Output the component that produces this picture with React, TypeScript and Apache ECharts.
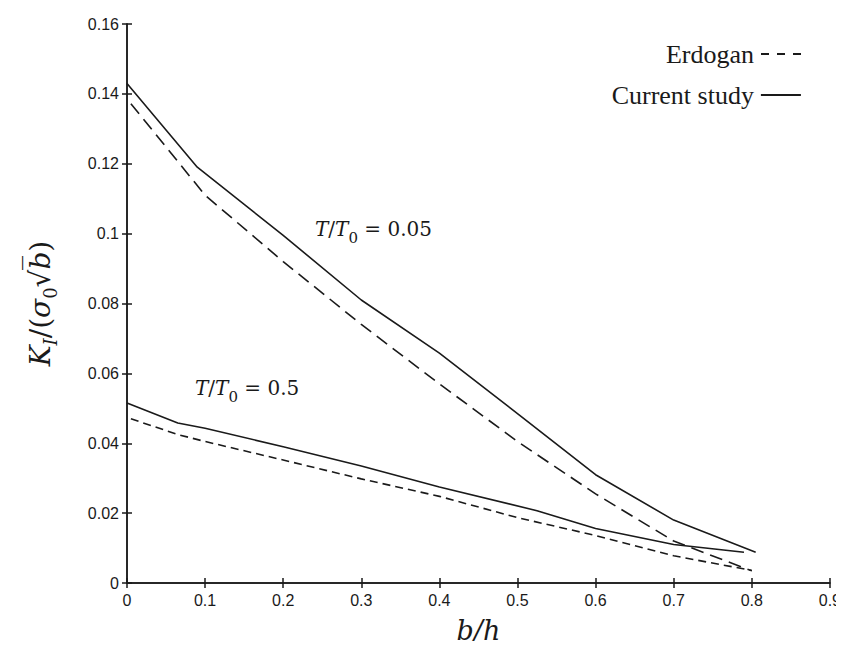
import React, { useEffect, useRef } from "react";
import * as echarts from "echarts";

// b/h values and K_I/(sigma0 sqrt b) values
const upperSolidX = [0, 0.09, 0.2, 0.3, 0.4, 0.5, 0.6, 0.7, 0.805];
const upperSolidY = [0.143, 0.119, 0.0995, 0.081, 0.0658, 0.0485, 0.031, 0.018, 0.0088];

const upperDashX = [0.005, 0.1, 0.2, 0.3, 0.4, 0.5, 0.6, 0.7, 0.8];
const upperDashY = [0.1372, 0.111, 0.092, 0.074, 0.057, 0.0405, 0.0255, 0.012, 0.0035];

const lowerSolidX = [0, 0.065, 0.1, 0.2, 0.3, 0.4, 0.525, 0.6, 0.7, 0.79];
const lowerSolidY = [0.0515, 0.0458, 0.0443, 0.039, 0.0335, 0.0275, 0.0207, 0.0156, 0.011, 0.0088];

const lowerDashX = [0.005, 0.065, 0.1, 0.2, 0.3, 0.4, 0.5, 0.6, 0.7, 0.8];
const lowerDashY = [0.047, 0.0425, 0.0405, 0.0352, 0.0298, 0.0248, 0.0187, 0.0136, 0.0078, 0.0036];

const seriesNames = ["Erdogan", "Current study"];
const curveValues = ["0.05", "0.5"];

const zip = (xs: number[], ys: number[]) => xs.map((x, i) => [x, ys[i]]);

const INK = "#1a1a1a";
const SERIF = "'Liberation Serif', 'DejaVu Serif', serif";
const MATH = "'DejaVu Serif', 'Liberation Serif', serif";
const SANS = "'Liberation Sans', Arial, sans-serif";

export default function App() {
  const ref = useRef<HTMLDivElement>(null);

  useEffect(() => {
    if (!ref.current) return;
    const chart = echarts.init(ref.current, null, { renderer: "svg" });

    const axisCommon = {
      type: "value" as const,
      axisLine: { show: true, lineStyle: { color: INK, width: 1.5 } },
      axisTick: { show: true, inside: true, length: 5, lineStyle: { color: INK, width: 1.5 } },
      splitLine: { show: false },
    };

    const lineSeries = (name: string, data: number[][], type: any) => ({
      type: "line",
      name,
      data,
      symbol: "none",
      showSymbol: false,
      smooth: false,
      lineStyle: { color: INK, width: 1.6, type },
      itemStyle: { color: INK },
      z: 3,
    });

    const legendCommon = {
      orient: "horizontal" as const,
      align: "right" as const,
      right: 42,
      padding: 0,
      itemWidth: 40,
      itemHeight: 14,
      itemGap: 10,
      selectedMode: false,
      itemStyle: { color: "transparent", borderWidth: 0, opacity: 0 },
      textStyle: { fontFamily: SERIF, fontSize: 26, color: INK, padding: [0, 2, 0, 0] },
    };

    const labelRich = {
      it: { fontFamily: MATH, fontStyle: "italic", fontSize: 20, color: INK, lineHeight: 26 },
      n: { fontFamily: MATH, fontSize: 20, color: INK, lineHeight: 26 },
      sub: { fontFamily: MATH, fontSize: 15, color: INK, lineHeight: 32, verticalAlign: "bottom" },
    };
    const makeLabel = (v: string) => "{it|T}{n|/}{it|T}{sub|0}{n| = " + v + "}";

    chart.setOption({
      animation: false,
      backgroundColor: "#ffffff",
      grid: { left: 127, right: 9, top: 24, bottom: 65, containLabel: false },
      legend: [
        {
          ...legendCommon,
          top: 41,
          data: [{ name: seriesNames[0], lineStyle: { type: [8, 8], width: 2 } }],
        },
        {
          ...legendCommon,
          top: 82,
          data: [{ name: seriesNames[1], lineStyle: { type: "solid", width: 2.2 } }],
        },
      ],
      xAxis: [
        {
          ...axisCommon,
          position: "bottom",
          min: 0,
          max: 0.9,
          interval: 0.1,
          axisLabel: { fontFamily: SANS, fontSize: 16, color: INK, margin: 9 },
          name: "b/h",
          nameLocation: "middle",
          nameGap: 34,
          nameTextStyle: { fontFamily: MATH, fontStyle: "italic", fontSize: 27, color: INK },
        },
        {
          ...axisCommon,
          position: "top",
          min: 0,
          max: 0.9,
          interval: 0.1,
          axisLabel: { show: false },
        },
      ],
      yAxis: [
        {
          ...axisCommon,
          position: "left",
          min: 0,
          max: 0.16,
          interval: 0.02,
          axisLabel: { fontFamily: SANS, fontSize: 16, color: INK, margin: 8 },
          name: "{k|K}{s|I}{n|/(}{g|σ}{s2|0}{n|√}{b|b̅}{n|)}",
          nameLocation: "middle",
          nameRotate: 90,
          nameGap: 68,
          nameTextStyle: {
            rich: {
              k: { fontFamily: MATH, fontStyle: "italic", fontSize: 28, color: INK, lineHeight: 30 },
              s: { fontFamily: MATH, fontStyle: "italic", fontSize: 18, color: INK, lineHeight: 38, verticalAlign: "bottom" },
              s2: { fontFamily: MATH, fontSize: 18, color: INK, lineHeight: 38, verticalAlign: "bottom" },
              n: { fontFamily: MATH, fontSize: 28, color: INK, lineHeight: 30 },
              g: { fontFamily: MATH, fontStyle: "italic", fontSize: 28, color: INK, lineHeight: 30 },
              b: { fontFamily: MATH, fontStyle: "italic", fontSize: 28, color: INK, lineHeight: 30 },
            },
          },
        },
        {
          ...axisCommon,
          position: "right",
          min: 0,
          max: 0.16,
          interval: 0.02,
          axisLabel: { show: false },
        },
      ],
      series: [
        lineSeries(seriesNames[0], zip(upperDashX, upperDashY), [13, 7]),
        lineSeries(seriesNames[1], zip(upperSolidX, upperSolidY), "solid"),
        lineSeries(seriesNames[0], zip(lowerDashX, lowerDashY), [8, 5]),
        lineSeries(seriesNames[1], zip(lowerSolidX, lowerSolidY), "solid"),
      ],
      graphic: [
        {
          type: "text",
          left: 315,
          top: 219,
          style: { text: makeLabel(curveValues[0]), rich: labelRich, fill: INK },
          z: 10,
        },
        {
          type: "text",
          left: 195,
          top: 378,
          style: { text: makeLabel(curveValues[1]), rich: labelRich, fill: INK },
          z: 10,
        },
      ],
    });

    return () => chart.dispose();
  }, []);

  return <div ref={ref} style={{ width: 844, height: 649, margin: -8 }} />;
}
